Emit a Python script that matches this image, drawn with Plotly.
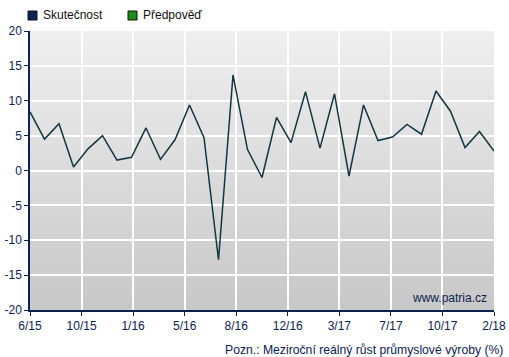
import plotly.graph_objects as go

months = ["6/15", "7/15", "8/15", "9/15", "10/15", "11/15", "12/15",
          "1/16", "2/16", "3/16", "4/16", "5/16", "6/16", "7/16", "8/16", "9/16", "10/16", "11/16", "12/16",
          "1/17", "2/17", "3/17", "4/17", "5/17", "6/17", "7/17", "8/17", "9/17", "10/17", "11/17", "12/17",
          "1/18", "2/18"]
actual = [8.4, 4.5, 6.7, 0.5, 3.1, 5.0, 1.5, 1.9, 6.1, 1.6, 4.4, 9.4, 4.7, -12.8, 13.7, 3.0, -1.0,
          7.6, 4.0, 11.3, 3.2, 11.0, -0.8, 9.4, 4.3, 4.8, 6.6, 5.2, 11.4, 8.5, 3.3, 5.6, 2.8]
forecast = [None] * len(months)
x_tick_labels = ["6/15", "10/15", "1/16", "5/16", "8/16", "12/16", "3/17", "7/17", "10/17", "2/18"]
y_ticks = [-20, -15, -10, -5, 0, 5, 10, 15, 20]
series_names = ["Skutečnost", "Předpověď"]

NAVY = "#0b2352"
LINE = "#12363f"
GREEN = "#1c8c1c"
FONT = "Liberation Sans, Arial, sans-serif"

xs = list(range(len(months)))
n = len(months) - 1
tickvals = [i * n / (len(x_tick_labels) - 1) for i in range(len(x_tick_labels))]

fig = go.Figure()
fig.add_trace(go.Scatter(x=xs, y=actual, mode="lines", name=series_names[0],
                         line=dict(color=LINE, width=1.5), showlegend=False,
                         hoverinfo="skip"))
fig.add_trace(go.Scatter(x=xs, y=forecast, mode="lines", name=series_names[1],
                         line=dict(color=GREEN, width=1.5), showlegend=False))

# gradient background bands (overlapping to avoid seams)
shapes = []
nb = 40
top = (239, 239, 239)
bot = (200, 200, 200)
for i in range(nb):
    t = (i + 0.5) / nb
    c = tuple(round(top[k] + (bot[k] - top[k]) * t) for k in range(3))
    y1 = 20 - 40 * i / nb
    y0 = max(-20, 20 - 40 * (i + 1) / nb - 0.5)
    shapes.append(dict(type="rect", xref="x", yref="y", x0=0, x1=n, y0=y0, y1=y1,
                       fillcolor="rgb(%d,%d,%d)" % c, line=dict(width=0), layer="below"))

W, H = 509, 357
PL, PR, PT, PB = 30, 494, 31, 310
PW, PH = PR - PL, PB - PT

def fx(p):
    return (p - PL) / PW
def fy(p):
    return (PB - p) / PH

legend_items = [(series_names[0], NAVY, 28), (series_names[1], GREEN, 128)]
annotations = []
for name, col, x0 in legend_items:
    shapes.append(dict(type="rect", xref="paper", yref="paper",
                       x0=fx(x0), x1=fx(x0 + 9), y0=fy(20), y1=fy(11),
                       fillcolor=col, line=dict(color="#111111", width=1)))
    annotations.append(dict(text=name, xref="paper", yref="paper",
                            x=fx(x0 + 13), y=fy(15.5),
                            xanchor="left", yanchor="middle", showarrow=False,
                            font=dict(family=FONT, size=12, color="#111111")))

annotations.append(dict(text="www.patria.cz", xref="paper", yref="paper",
                        x=fx(489), y=fy(298),
                        xanchor="right", yanchor="middle", showarrow=False,
                        font=dict(family=FONT, size=12, color=NAVY)))
annotations.append(dict(text="Pozn.: Meziroční reálný růst průmyslové výroby (%)",
                        xref="paper", yref="paper",
                        x=fx(505), y=fy(350),
                        xanchor="right", yanchor="middle", showarrow=False,
                        font=dict(family=FONT, size=12.2, color=NAVY)))

fig.update_layout(
    width=W, height=H,
    margin=dict(l=PL, r=W - PR, t=PT, b=H - PB, autoexpand=False),
    paper_bgcolor="white", plot_bgcolor="white",
    font=dict(family=FONT, size=12, color=NAVY),
    shapes=shapes, annotations=annotations,
    xaxis=dict(range=[0, n], tickvals=tickvals, ticktext=x_tick_labels,
               showgrid=True, gridcolor="white", gridwidth=1.5,
               showline=True, linecolor=NAVY, linewidth=1.5,
               ticks="outside", ticklen=4, tickcolor=NAVY, tickwidth=1,
               zeroline=False, tickfont=dict(family=FONT, size=12, color=NAVY)),
    yaxis=dict(range=[-20, 20], tickvals=y_ticks, ticktext=[str(v) for v in y_ticks],
               showgrid=True, gridcolor="white", gridwidth=1.5,
               showline=True, linecolor=NAVY, linewidth=1.5,
               ticks="outside", ticklen=4, tickcolor=NAVY, tickwidth=1,
               zeroline=False, tickfont=dict(family=FONT, size=12, color=NAVY)),
    showlegend=False,
)

fig.write_html("out.html", config={"displayModeBar": False},
               post_script="document.body.style.margin='0';")
